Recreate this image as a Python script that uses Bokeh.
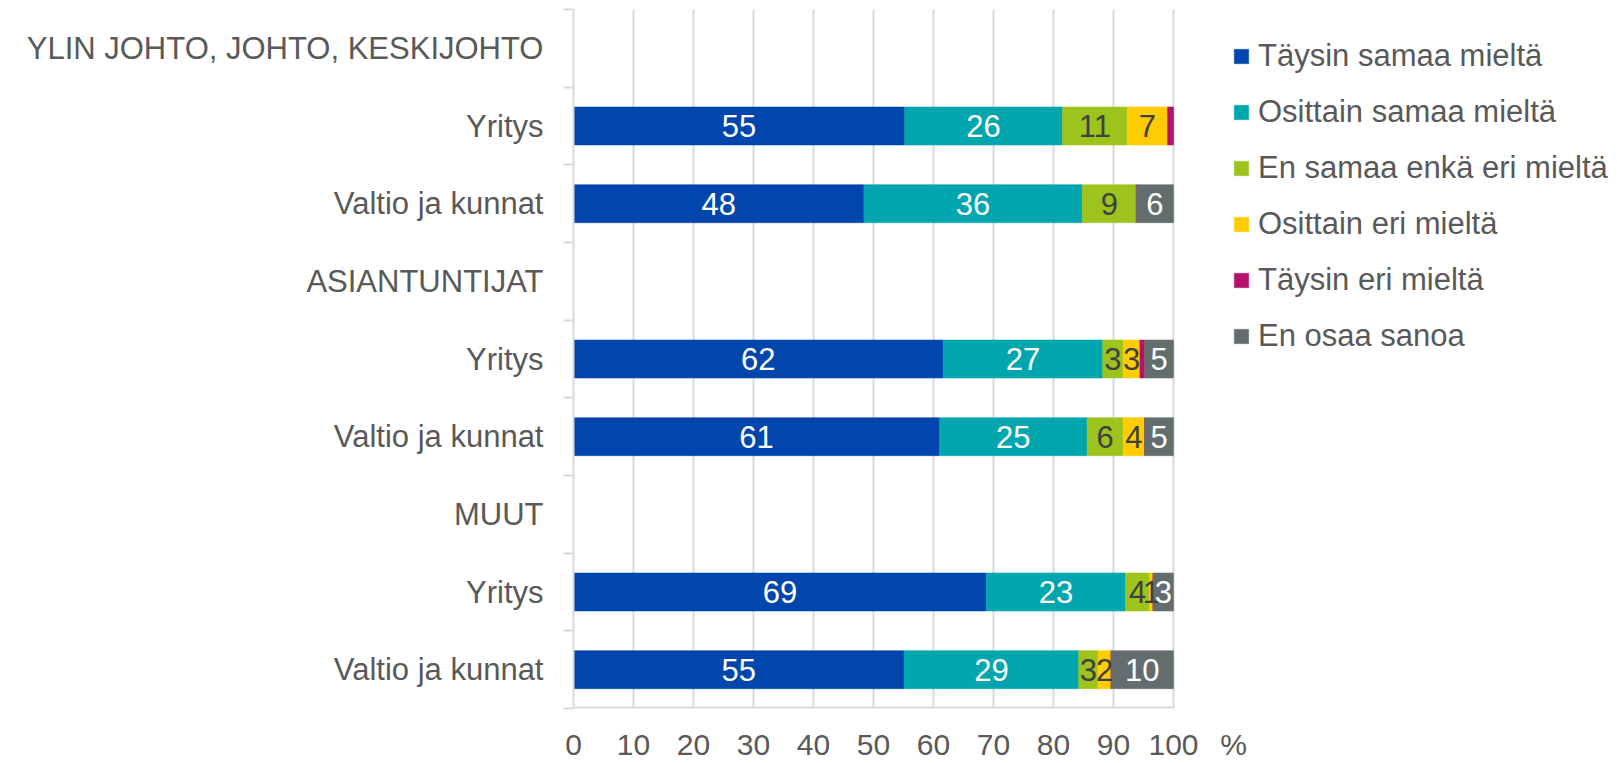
from bokeh.plotting import figure
from bokeh.models import (ColumnDataSource, Range1d, FixedTicker, Legend, LegendItem)
from bokeh.core.properties import value
from bokeh.embed import file_html
from bokeh.resources import INLINE

rows = ["YLIN JOHTO, JOHTO, KESKIJOHTO", "Yritys", "Valtio ja kunnat",
        "ASIANTUNTIJAT", "Yritys", "Valtio ja kunnat",
        "MUUT", "Yritys", "Valtio ja kunnat"]
series_names = ["Täysin samaa mieltä", "Osittain samaa mieltä", "En samaa enkä eri mieltä",
                "Osittain eri mieltä", "Täysin eri mieltä", "En osaa sanoa"]
taysin_samaa = [0, 55.2, 48.4, 0, 61.6, 61.0, 0, 68.8, 55.1]
osittain_samaa = [0, 26.3, 36.4, 0, 26.6, 24.6, 0, 23.2, 29.1]
ei_samaa_ei_eri = [0, 10.8, 9.0, 0, 3.4, 6.0, 0, 4.0, 3.2]
osittain_eri = [0, 6.7, 0, 0, 2.8, 3.6, 0, 0.6, 2.2]
taysin_eri = [0, 1.0, 0, 0, 0.8, 0, 0, 0, 0]
en_osaa = [0, 0, 6.2, 0, 4.8, 4.8, 0, 3.4, 10.4]
x_ticks = [0, 10, 20, 30, 40, 50, 60, 70, 80, 90, 100]
unit_label = "%"

colors = ["#0046AD", "#00A6AD", "#9DC41C", "#FFCC00", "#B5136B", "#636D6E"]
label_colors = ["white", "white", "#404040", "#404040", None, "white"]
FONT = "Liberation Sans"
TXT = "#595959"
GRID = "#D9D9D9"

# layout (pixels)
W, H = 1617, 763
LEFT, RIGHT_OF_100, TOP, BOTTOM = 573, 1173, 9, 55
px_per_unit = (RIGHT_OF_100 - LEFT) / 100.0
x_end = (W - LEFT) / px_per_unit
unit_pos = x_ticks[-1] + 60 / px_per_unit  # position of the "%" after "100"

series = [taysin_samaa, osittain_samaa, ei_samaa_ei_eri, osittain_eri, taysin_eri, en_osaa]
keys = ["s%d" % i for i in range(len(series))]
ypos = list(range(len(rows)))
data = {"y": ypos}
for k, s in zip(keys, series):
    data[k] = s
source = ColumnDataSource(data)

y_bottom = len(rows) - 0.5
p = figure(width=W, height=H, output_backend="svg", toolbar_location=None,
           x_range=Range1d(0, x_end), y_range=Range1d(y_bottom, -0.5),
           min_border_left=LEFT, min_border_right=0, min_border_top=TOP,
           min_border_bottom=BOTTOM)
p.outline_line_color = None

renderers = p.hbar_stack(keys, y="y", height=0.49, color=colors, line_color=colors,
                         line_width=0.5, source=source)

# x axis line from 0 to 100 only
p.segment(x0=[x_ticks[0]], x1=[x_ticks[-1]], y0=[y_bottom], y1=[y_bottom],
          line_color=GRID, line_width=4)

# data labels
for i, (s, c) in enumerate(zip(series, label_colors)):
    if c is None:
        continue
    xs, ys, ts = [], [], []
    for r in range(len(rows)):
        v = s[r]
        if v <= 0:
            continue
        left = sum(series[j][r] for j in range(i))
        xs.append(left + v / 2.0)
        ys.append(r)
        ts.append(str(int(v + 0.5)))
    src = ColumnDataSource(dict(x=xs, y=ys, t=ts))
    p.text(x="x", y="y", text="t", source=src, text_align="center", text_baseline="middle",
           text_font=value(FONT), text_font_size="31px", text_color=c)

# axes
xa = p.xaxis[0]
xa.ticker = FixedTicker(ticks=x_ticks + [unit_pos], minor_ticks=[])
xa.major_label_overrides = {unit_pos: unit_label}
xa.major_tick_line_color = None
xa.major_tick_out = 0
xa.major_tick_in = 0
xa.minor_tick_line_color = None
xa.axis_line_color = None
xa.major_label_text_font = FONT
xa.major_label_text_font_size = "30px"
xa.major_label_text_color = TXT
xa.major_label_standoff = 19

ya = p.yaxis[0]
ya.ticker = FixedTicker(ticks=ypos, minor_ticks=[r + 0.5 for r in range(-1, len(rows))])
ya.major_label_overrides = {i: name for i, name in enumerate(rows)}
ya.major_tick_line_color = None
ya.major_tick_out = 0
ya.major_tick_in = 0
ya.minor_tick_line_color = GRID
ya.minor_tick_line_width = 2
ya.minor_tick_out = 10
ya.minor_tick_in = 0
ya.axis_line_color = GRID
ya.axis_line_width = 2
ya.major_label_text_font = FONT
ya.major_label_text_font_size = "31px"
ya.major_label_text_color = TXT
ya.major_label_standoff = 20

p.xgrid.ticker = FixedTicker(ticks=x_ticks)
p.xgrid.grid_line_color = GRID
p.xgrid.grid_line_width = 2
p.ygrid.grid_line_color = None

legend = Legend(items=[LegendItem(label=n, renderers=[r]) for n, r in zip(series_names, renderers)],
                location=(659, 352), border_line_color=None, background_fill_alpha=0,
                padding=0, margin=0, spacing=16, label_height=40, glyph_height=18,
                glyph_width=18, label_standoff=8, label_text_font=FONT,
                label_text_font_size="31px", label_text_color=TXT,
                label_text_baseline="middle")
p.add_layout(legend, "center")

open("out.html", "w").write(file_html(p, INLINE))
